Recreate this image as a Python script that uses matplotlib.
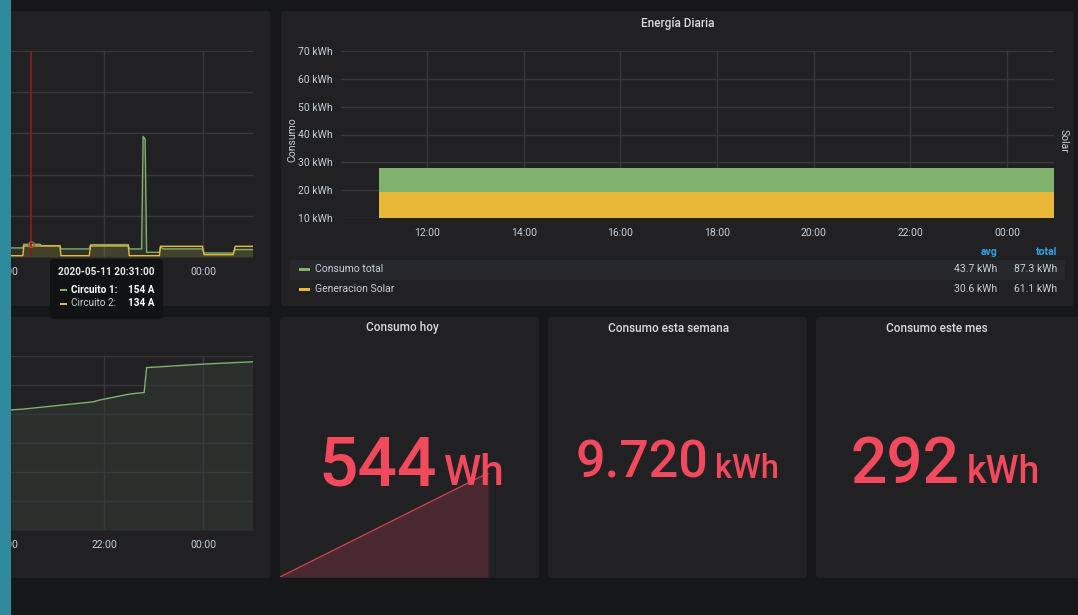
"""
Panel de energía estilo Grafana: corriente por circuito, energía diaria
y consumos acumulados (hoy / semana / mes).
"""

import matplotlib
matplotlib.use('Agg')  # sin pantalla
import matplotlib.pyplot as plt
from matplotlib.patches import FancyBboxPatch, Rectangle
from matplotlib.transforms import IdentityTransform
from matplotlib.ticker import FuncFormatter, MultipleLocator

plt.rcParams['font.family'] = ['Roboto', 'DejaVu Sans']

W, H = 1078, 615

# DATOS
# Corriente por circuito (hora del día, A)
c1_horas = [20.12, 20.36, 20.38, 20.71, 20.73, 21.11, 21.13, 21.70, 21.73, 22.49, 22.51, 22.76,
            22.79, 22.83, 22.86, 23.12, 23.14, 23.20, 23.99, 24.02, 24.61, 24.65, 25.0]
c1_amp = [110, 110, 154, 154, 138, 138, 98, 98, 150, 150, 98, 98,
          1463, 1430, 57, 57, 122, 98, 98, 49, 49, 90, 90]
c2_horas = [20.12, 20.36, 20.38, 21.11, 21.13, 21.70, 21.73, 22.49, 22.51, 23.12, 23.14, 23.99,
            24.02, 24.61, 24.65, 25.0]
c2_amp = [16, 16, 134, 134, 16, 16, 134, 134, 16, 16, 130, 130, 28, 28, 130, 130]
hora_cursor = 20.52

# Energía acumulada (panel inferior izquierdo)
acum_horas = [20.12, 20.37, 21.78, 21.91, 22.52, 22.81, 22.86, 24.00, 25.0]
acum_val = [4.14, 4.17, 4.42, 4.48, 4.69, 4.74, 5.60, 5.72, 5.80]

# Energía diaria (kWh)
dia_inicio = [11.0]
consumo_total = [27.9]
generacion_solar = [19.4]
leyenda_nombres = ['Consumo total', 'Generacion Solar']
leyenda_avg = ['43.7 kWh', '30.6 kWh']
leyenda_total = ['87.3 kWh', '61.1 kWh']

# Stats
hoy_horas = [0.0, 1.0]
hoy_valores = [0, 544]
stat_titulos = ['Consumo hoy', 'Consumo esta semana', 'Consumo este mes']
stat_numeros = ['544', '9.720', '292']
stat_unidades = ['Wh', 'kWh', 'kWh']

# COLORES
BG = '#161719'
PANEL = '#212124'
GRID = '#37383b'
TXT = '#c7d0d9'
TITLE = '#d8d9da'
VERDE = '#7EB26D'
AMARILLO = '#EAB839'
ROJO = '#F2495C'
AZUL = '#33A2E5'

fig = plt.figure(figsize=(W / 100, H / 100), dpi=100, facecolor=BG)


def caja(x0, y0, x1, y1, color, z=-5, r=3):
    p = FancyBboxPatch((x0, H - y1), x1 - x0, y1 - y0,
                       boxstyle=f'round,pad=0,rounding_size={r}',
                       transform=IdentityTransform(), facecolor=color,
                       edgecolor='none', zorder=z)
    fig.add_artist(p)


def ejes(x0, y0, x1, y1):
    ax = fig.add_axes([x0 / W, 1 - y1 / H, (x1 - x0) / W, (y1 - y0) / H])
    ax.patch.set_alpha(0)
    for s in ax.spines.values():
        s.set_visible(False)
    ax.tick_params(length=0, colors=TXT, labelsize=7.5)
    return ax


def texto(x, y, s, **kw):
    kw.setdefault('color', TXT)
    kw.setdefault('fontsize', 7.5)
    return fig.text(x / W, 1 - y / H, s, **kw)


fmt_hora = FuncFormatter(lambda v, p: f'{int(round(v)) % 24:02d}:00')

# Paneles
caja(-50, 11, 270, 306, PANEL)
caja(281, 11, 1074, 306, PANEL)
caja(-50, 317, 270, 578, PANEL)
caja(280, 317, 539, 578, PANEL)
caja(548, 317, 807, 578, PANEL)
caja(816, 317, 1078 + 10, 578, PANEL)

# Panel corriente por circuito
ax1 = ejes(-40, 51, 253, 257)
ax1.plot(c1_horas, c1_amp, color=VERDE, lw=1)
ax1.fill_between(c1_horas, c1_amp, color=VERDE, alpha=0.12, lw=0)
ax1.plot(c2_horas, c2_amp, color=AMARILLO, lw=1)
ax1.fill_between(c2_horas, c2_amp, color=AMARILLO, alpha=0.12, lw=0)
ax1.axvline(hora_cursor, color='#8a1c1c', lw=1.2)
ax1.plot([hora_cursor], [c1_amp[2]], 'o', ms=4, mfc='none', mec='#b0503c', mew=1)
ax1.set_xlim(19.09, 25.01)
ax1.set_ylim(0, 2500)
ax1.set_xticks([20, 24])  # la etiqueta de 22:00 queda tapada por el tooltip
ax1.xaxis.set_major_formatter(fmt_hora)
ax1.yaxis.set_major_locator(MultipleLocator(500))
ax1.set_yticklabels([])
ax1.grid(True, color=GRID, lw=1)
ax1.axvline(22, color=GRID, lw=1, zorder=0.5)
ax1.tick_params(axis='x', pad=7)

# Panel energía acumulada
ax2 = ejes(-40, 356, 253, 530)
ax2.plot(acum_horas, acum_val, color=VERDE, lw=1)
ax2.fill_between(acum_horas, acum_val, color=VERDE, alpha=0.1, lw=0)
ax2.set_xlim(19.09, 25.01)
ax2.set_ylim(0, 6)
ax2.xaxis.set_major_locator(MultipleLocator(2))
ax2.xaxis.set_major_formatter(fmt_hora)
ax2.yaxis.set_major_locator(MultipleLocator(1))
ax2.set_yticklabels([])
ax2.grid(True, color=GRID, lw=1)
ax2.tick_params(axis='x', pad=7)

# Energía Diaria
ax3 = ejes(341, 51, 1054, 218)
ax3.bar(dia_inicio, consumo_total, width=24, align='edge', color=VERDE, lw=0, zorder=2)
ax3.bar(dia_inicio, generacion_solar, width=24, align='edge', color=AMARILLO, lw=0, zorder=3)
ax3.set_xlim(10.22, 24.97)
ax3.set_ylim(10, 70)
ax3.xaxis.set_major_locator(MultipleLocator(2))
ax3.xaxis.set_major_formatter(fmt_hora)
ax3.yaxis.set_major_locator(MultipleLocator(10))
ax3.yaxis.set_major_formatter(FuncFormatter(lambda v, p: f'{v:.0f} kWh'))
ax3.grid(True, color=GRID, lw=1, zorder=0)
ax3.set_axisbelow(True)
ax3.tick_params(axis='x', pad=7)
ax3.tick_params(axis='y', pad=6)

texto(678, 23, 'Energía Diaria', ha='center', va='center', color=TITLE, fontsize=8.5,
      fontweight='medium')
texto(292, 140, 'Consumo', rotation=90, ha='center', va='center', fontsize=7.5)
texto(1064, 141, 'Solar', rotation=270, ha='center', va='center', fontsize=7.5)

# Leyenda en tabla
caja(290, 260, 1065, 280, '#27282b', z=-4, r=0)
texto(997, 252, 'avg', ha='right', va='center', color=AZUL, fontsize=7.5, fontweight='bold')
texto(1057, 252, 'total', ha='right', va='center', color=AZUL, fontsize=7.5, fontweight='bold')
for i, (nombre, col) in enumerate(zip(leyenda_nombres, [VERDE, AMARILLO])):
    yy = 269 + 20 * i
    fig.add_artist(Rectangle((299, H - yy - 1.5), 11, 3, transform=IdentityTransform(),
                             facecolor=col, edgecolor='none'))
    texto(315, yy, nombre, va='center')
    texto(997, yy, leyenda_avg[i], ha='right', va='center')
    texto(1057, yy, leyenda_total[i], ha='right', va='center')

# Stats
ax4 = ejes(280, 473, 539, 577)
ax4.plot(hoy_horas, hoy_valores, color=ROJO, lw=1, alpha=0.8)
ax4.fill_between(hoy_horas, hoy_valores, color=ROJO, alpha=0.2, lw=0)
ax4.set_xlim(0, 1.245)
ax4.set_ylim(0, 544)
ax4.set_xticks([])
ax4.set_yticks([])

centros = [402, 669, 937]
for c, t in zip(centros, stat_titulos):
    texto(c, 328, t, ha='center', va='center', color=TITLE, fontsize=8.5, fontweight='medium')

# número + unidad centrados como grupo (centro y línea base medidos en pixeles)
grupo = [(412, 485, 50, 30.5), (677, 478, 37.5, 23.5), (945, 483, 46, 27)]
renderer = fig.canvas.get_renderer()
for (cx, base, fs, fsu), n, u in zip(grupo, stat_numeros, stat_unidades):
    tn = texto(0, base, n, ha='left', va='baseline', color=ROJO, fontsize=fs, zorder=6,
               fontweight='medium')
    tu = texto(0, base, u, ha='left', va='baseline', color=ROJO, fontsize=fsu, zorder=6,
               fontweight='medium')
    wn = tn.get_window_extent(renderer).width
    wu = tu.get_window_extent(renderer).width
    x0 = cx - (wn + 7 + wu) / 2
    tn.set_x(x0 / W)
    tu.set_x((x0 + wn + 7) / W)

# Tooltip
caja(50, 259, 163, 319, '#111214', z=8, r=4)
texto(106, 272, '2020-05-11 20:31:00', ha='center', va='center', color='#e6e6e6',
      fontsize=7.2, fontweight='bold', zorder=9)
for i, (nombre, valor, col, peso, ctxt) in enumerate([
        ('Circuito 1:', f'{c1_amp[2]} A', VERDE, 'bold', '#ffffff'),
        ('Circuito 2:', f'{c2_amp[2]} A', AMARILLO, 'normal', TXT)]):
    yy = 290 + 13.5 * i
    fig.add_artist(Rectangle((60, H - yy - 1), 7, 2, transform=IdentityTransform(),
                             facecolor=col, edgecolor='none', zorder=9))
    texto(71, yy, nombre, va='center', color=ctxt, fontweight=peso, fontsize=7.2, zorder=9)
    texto(155, yy, valor, ha='right', va='center', color='#ffffff', fontweight='bold',
          fontsize=7.2, zorder=9)

# Barra lateral
fig.add_artist(Rectangle((0, 0), 11, H, transform=IdentityTransform(),
                         facecolor='#2e8a9c', edgecolor='none', zorder=10))

plt.savefig('out.png', dpi=100, facecolor=BG)
plt.close()
